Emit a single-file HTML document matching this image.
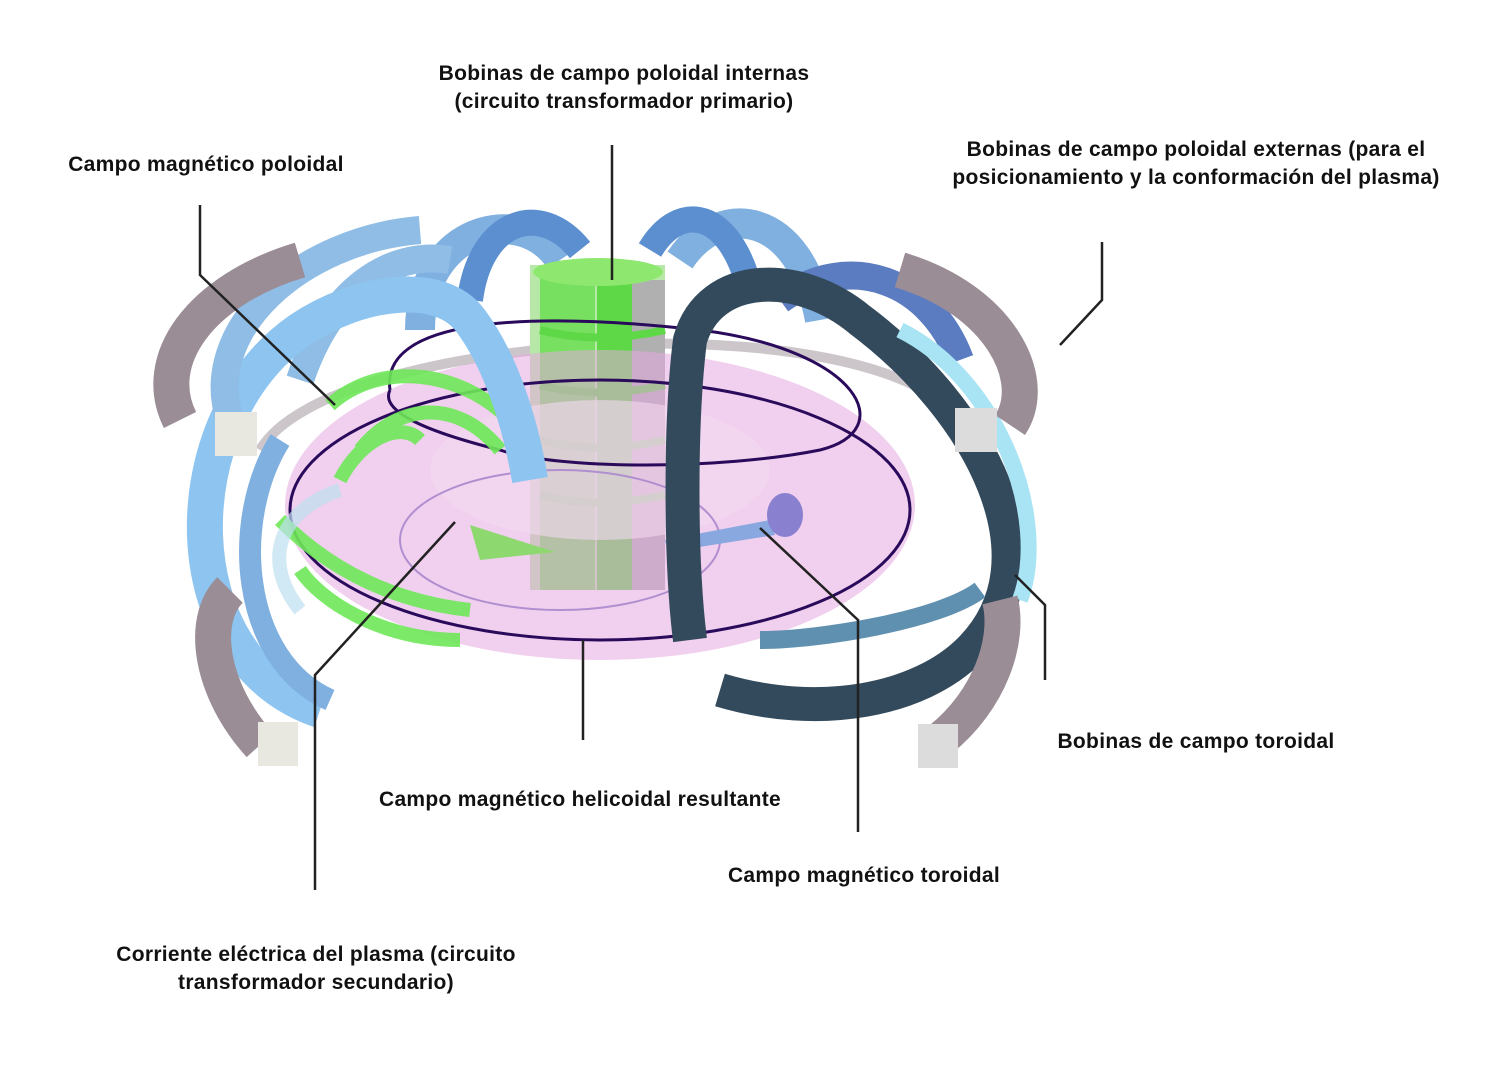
<!DOCTYPE html>
<html><head><meta charset="utf-8"><style>
html,body{margin:0;padding:0;background:#fff;}
svg{display:block}
text{font-family:"Liberation Sans",sans-serif;font-weight:bold;font-size:21px;letter-spacing:0.3px;fill:#111;}
</style></head><body>
<svg width="1493" height="1079" viewBox="0 0 1493 1079" xmlns="http://www.w3.org/2000/svg">
<rect width="1493" height="1079" fill="#fff"/>
<!-- back coils -->
<g fill="none" stroke-linecap="butt">
<path d="M420,330 C420,230 520,200 560,260" stroke="#7fb0e0" stroke-width="30"/>
<path d="M470,300 C480,220 540,200 580,250" stroke="#5b8fd0" stroke-width="26"/>
<path d="M680,260 C720,200 800,210 820,320" stroke="#7fb0e0" stroke-width="30"/>
<path d="M650,250 C680,200 730,210 750,290" stroke="#5b8fd0" stroke-width="26"/>
<path d="M780,300 C850,250 930,280 960,360" stroke="#5b7cc0" stroke-width="28"/>
<path d="M300,380 C330,290 390,250 450,260" stroke="#8fbde6" stroke-width="28"/>
</g>
<path d="M260,450 C330,330 870,300 960,420" fill="none" stroke="#9a8d96" stroke-width="10" opacity="0.5"/>
<!-- central column -->
<rect x="530" y="265" width="135" height="325" fill="#b8e8a8"/>
<rect x="540" y="265" width="55" height="325" fill="#78e060"/>
<rect x="597" y="265" width="35" height="325" fill="#5fd848"/>
<rect x="632" y="280" width="33" height="310" fill="#b0b0b0"/>
<ellipse cx="598" cy="272" rx="65" ry="14" fill="#8ee870"/>
<g stroke="#5fd848" stroke-width="8" fill="none">
<path d="M540,330 Q598,345 665,330"/><path d="M540,385 Q598,400 665,385"/><path d="M540,440 Q598,455 665,440"/><path d="M540,495 Q598,510 665,495"/>
</g>
<!-- plasma torus -->
<ellipse cx="600" cy="505" rx="315" ry="155" fill="#e6a8e0" opacity="0.55"/>
<ellipse cx="600" cy="470" rx="170" ry="70" fill="#f3d8f0" opacity="0.6"/>
<g fill="none" stroke="#2a0a5a" stroke-width="3">
<ellipse cx="600" cy="510" rx="310" ry="130"/>
<path d="M390,390 C380,320 520,310 700,330 C860,350 900,430 820,450 C720,470 560,470 500,450 C420,430 380,410 390,390"/>
<ellipse cx="560" cy="540" rx="160" ry="70" stroke="#b08fd0" stroke-width="2"/>
</g>
<g fill="none" stroke="#6ee858" stroke-width="14" opacity="0.9">
<path d="M330,405 C380,360 460,370 510,420"/>
<path d="M360,450 C400,400 460,400 500,450"/>
<path d="M340,480 C360,440 400,420 420,440"/>
<path d="M300,570 C320,600 380,640 460,640"/>
<path d="M280,520 C320,560 380,600 470,610"/>
</g>
<polygon points="470,525 555,552 480,560" fill="#8ed870"/>
<polygon points="665,540 770,520 775,535 668,552" fill="#8aa8e0"/>
<ellipse cx="785" cy="515" rx="18" ry="22" fill="#8a80d0"/>
<!-- front left blue coils -->
<g fill="none">
<path d="M320,710 C170,660 170,420 300,330 C360,290 440,280 470,320 C500,360 520,420 530,480" stroke="#8ec4f0" stroke-width="36"/>
<path d="M330,700 C240,660 230,520 280,440" stroke="#7fb0e0" stroke-width="22"/>
<path d="M230,420 C200,330 300,240 420,230" stroke="#8fbde6" stroke-width="28"/>
<path d="M300,610 C260,560 280,510 340,490" stroke="#bde0f0" stroke-width="14" opacity="0.7"/>
</g>
<!-- front right dark coil -->
<g fill="none">
<path d="M690,640 C680,560 680,420 690,340 C710,270 800,270 860,320 C980,410 1060,560 970,650 C920,700 820,720 720,690" stroke="#334a5c" stroke-width="34"/>
<path d="M900,330 C1000,380 1050,520 1020,600" stroke="#a8e4f4" stroke-width="16"/>
<path d="M980,590 C940,620 820,640 760,640" stroke="#6090b0" stroke-width="18"/>
</g>
<g fill="none" stroke="#9a8d96" stroke-width="36">
<path d="M180,420 C150,360 200,290 300,260"/>
<path d="M1010,425 C1040,380 1000,300 900,270"/>
<path d="M260,745 C210,690 200,620 230,590"/>
<path d="M940,740 C990,700 1010,640 1000,600"/>
</g>
<rect x="215" y="412" width="42" height="44" fill="#e8e8e0"/>
<rect x="955" y="408" width="42" height="44" fill="#dcdcdc"/>
<rect x="258" y="722" width="40" height="44" fill="#e8e8e0"/>
<rect x="918" y="724" width="40" height="44" fill="#dcdcdc"/>
<g fill="none" stroke="#222" stroke-width="2.5">
<path d="M200,205 L200,275 L335,405"/>
<path d="M612,145 L612,280"/>
<path d="M1102,242 L1102,300 L1060,345"/>
<path d="M1015,575 L1045,605 L1045,680"/>
<path d="M583,640 L583,740"/>
<path d="M760,528 L858,620 L858,832"/>
<path d="M455,522 L315,675 L315,890"/>
</g>
<g text-anchor="middle">
<text x="624" y="80">Bobinas de campo poloidal internas</text>
<text x="624" y="108">(circuito transformador primario)</text>
<text x="206" y="171">Campo magnético poloidal</text>
<text x="1196" y="156">Bobinas de campo poloidal externas (para el</text>
<text x="1196" y="184">posicionamiento y la conformación del plasma)</text>
<text x="1196" y="748">Bobinas de campo toroidal</text>
<text x="580" y="806">Campo magnético helicoidal resultante</text>
<text x="864" y="882">Campo magnético toroidal</text>
<text x="316" y="961">Corriente eléctrica del plasma (circuito</text>
<text x="316" y="989">transformador secundario)</text>
</g>
</svg>
</body></html>
